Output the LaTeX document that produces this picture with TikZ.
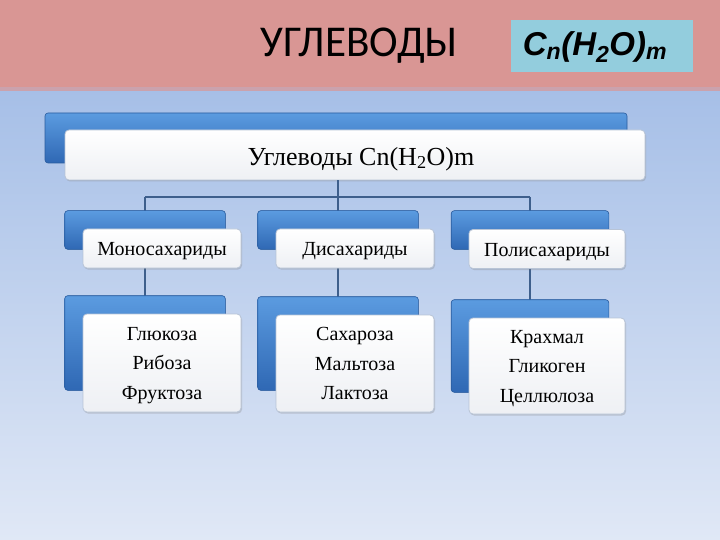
\documentclass[tikz,border=0pt]{standalone}
\usepackage{fontspec}
\setmainfont{Liberation Serif}
\newfontfamily\titlefont{Carlito}
\newfontfamily\formfont{Liberation Sans}
\usetikzlibrary{shadows}
\definecolor{pinkband}{HTML}{D99694}
\definecolor{bgtop}{HTML}{A6BFE7}
\definecolor{bgbot}{HTML}{E0E8F6}
\definecolor{formbox}{HTML}{93CDDD}
\definecolor{bluetop}{HTML}{5B9BE0}
\definecolor{bluebot}{HTML}{2F68B4}
\definecolor{blueedge}{HTML}{2A5C9E}
\definecolor{lineblue}{HTML}{3E5F8C}
\definecolor{whiteedge}{HTML}{B8C4D6}
\definecolor{whitebot}{HTML}{EEF0F4}
\newcommand\lowr[2]{\raisebox{-#1}[\height][\depth]{#2}}
\newcommand\three[3]{\lowr{1pt}{\begin{tabular}{@{}c@{}}#1\\#2\\#3\end{tabular}}}
\begin{document}
\begin{tikzpicture}[x=1pt,y=-1pt,
  bluebox/.style={draw=blueedge,line width=0.6pt,rounded corners=3pt,top color=bluetop,bottom color=bluebot},
  whitebox/.style={draw=whiteedge,line width=0.8pt,rounded corners=4pt,top color=white,bottom color=whitebot,
     drop shadow={shadow xshift=1pt,shadow yshift=-1.5pt,opacity=0.3}},
  conn/.style={draw=lineblue,line width=1.3pt},
  lbl/.style={font=\fontsize{20}{29.5}\selectfont,align=center,text=black}]
\useasboundingbox (0,0) rectangle (720,540);
\shade[top color=bgtop,bottom color=bgbot] (0,89) rectangle (720,540);
\fill[pinkband] (0,0) rectangle (720,89);
\fill[pinkband!70!bgtop] (0,87) rectangle (720,91);
\node[font=\titlefont\fontsize{44}{44}\selectfont,xscale=0.98] (title) at (359,46) {УГЛЕВОДЫ};
\node[fill=formbox,minimum width=182pt,minimum height=52pt,inner sep=0pt] (form) at (602,46) {};
\node[font=\formfont\bfseries\itshape\fontsize{33}{33}\selectfont] (formtxt) at (595,47)
  {C\textsubscript{n}(H\textsubscript{2}O)\textsubscript{m}};
% connectors
\coordinate (j0) at (338,197);
\coordinate (j1) at (145,197);
\coordinate (j3) at (530,197);
% level 1
\path[bluebox] (45,113) rectangle (627,163);
\node[whitebox,minimum width=580pt,minimum height=50pt,inner sep=0pt] (top) at (355,155) {};
\node[font=\fontsize{26}{26}\selectfont] (toptxt) at (361,159) {Углеводы Cn(H\textsubscript{2}O)m};
% level 2 blue
\node[bluebox,minimum width=160pt,minimum height=38pt,inner sep=0pt] (b1) at (145,230) {};
\node[bluebox,minimum width=160pt,minimum height=38pt,inner sep=0pt] (b2) at (338,230) {};
\node[bluebox,minimum width=157pt,minimum height=38pt,inner sep=0pt] (b3) at (530,230) {};
% level 3 blue
\node[bluebox,minimum width=160pt,minimum height=94pt,inner sep=0pt] (c1) at (145,343) {};
\node[bluebox,minimum width=160pt,minimum height=93pt,inner sep=0pt] (c2) at (338,343.5) {};
\node[bluebox,minimum width=157pt,minimum height=92pt,inner sep=0pt] (c3) at (530,346) {};
\draw[conn] (top.south -| j0) -- (j0);
\draw[conn] (j1) -- (j3);
\draw[conn] (j1) -- (b1.north);
\draw[conn] (j0) -- (b2.north);
\draw[conn] (j3) -- (b3.north);
\draw[conn] (b1.south) -- (c1.north);
\draw[conn] (b2.south) -- (c2.north);
\draw[conn] (b3.south) -- (c3.north);
% redraw blue boxes over lines
\path[bluebox] (b1.north west) rectangle (b1.south east);
\path[bluebox] (b2.north west) rectangle (b2.south east);
\path[bluebox] (b3.north west) rectangle (b3.south east);
\path[bluebox] (c1.north west) rectangle (c1.south east);
\path[bluebox] (c2.north west) rectangle (c2.south east);
\path[bluebox] (c3.north west) rectangle (c3.south east);
% level 2 white
\node[whitebox,lbl,minimum width=158pt,minimum height=39pt,inner sep=0pt] (w1) at (162,248.5) {\lowr{3pt}{Моносахариды}};
\node[whitebox,lbl,minimum width=158pt,minimum height=39pt,inner sep=0pt] (w2) at (355,248.5) {\lowr{3pt}{Дисахариды}};
\node[whitebox,lbl,minimum width=156pt,minimum height=39pt,inner sep=0pt] (w3) at (547,249) {\lowr{3pt}{Полисахариды}};
% level 3 white
\node[whitebox,lbl,minimum width=158pt,minimum height=98pt,inner sep=0pt] (x1) at (162,363) {\three{Глюкоза}{Рибоза}{Фруктоза}};
\node[whitebox,lbl,minimum width=158pt,minimum height=97pt,inner sep=0pt] (x2) at (355,363.5) {\three{Сахароза}{Мальтоза}{Лактоза}};
\node[whitebox,lbl,minimum width=156pt,minimum height=96pt,inner sep=0pt] (x3) at (547,366) {\three{Крахмал}{Гликоген}{Целлюлоза}};
\end{tikzpicture}
\end{document}
